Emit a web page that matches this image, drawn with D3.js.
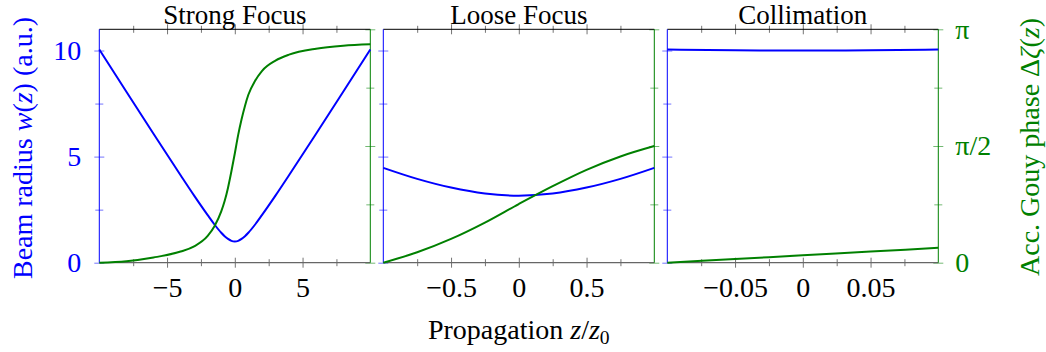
<!DOCTYPE html>
<html>
<head>
<meta charset="utf-8">
<script src="https://cdn.jsdelivr.net/npm/d3@7"></script>
<style>
  body { margin: 0; background: #fff; }
  svg { display: block; }
</style>
</head>
<body>
<svg id="chart" width="1046" height="352"></svg>
<script>
// values (z/z0, beam radius in a.u., accumulated Gouy phase in rad)
var strongZ     = [-10, -8, -6, -4, -3, -2, -1.5, -1, -0.75, -0.5, -0.25, 0, 0.25, 0.5, 0.75, 1, 1.5, 2, 3, 4, 6, 8, 10];
var strongW     = [10.05, 8.06, 6.08, 4.12, 3.16, 2.24, 1.80, 1.41, 1.25, 1.12, 1.03, 1.00, 1.03, 1.12, 1.25, 1.41, 1.80, 2.24, 3.16, 4.12, 6.08, 8.06, 10.05];
var strongPhase = [0.00, 0.02, 0.07, 0.15, 0.22, 0.36, 0.49, 0.69, 0.83, 1.01, 1.23, 1.47, 1.72, 1.93, 2.11, 2.26, 2.45, 2.58, 2.72, 2.80, 2.88, 2.92, 2.94];

var looseZ     = [-1, -0.75, -0.5, -0.25, 0, 0.25, 0.5, 0.75, 1];
var looseW     = [4.47, 3.95, 3.54, 3.26, 3.16, 3.26, 3.54, 3.95, 4.47];
var loosePhase = [0.00, 0.14, 0.32, 0.54, 0.79, 1.03, 1.25, 1.43, 1.57];

var collZ     = [-0.1, -0.05, 0, 0.05, 0.1];
var collW     = [10.05, 10.01, 10.00, 10.01, 10.05];
var collPhase = [0.00, 0.05, 0.10, 0.15, 0.20];

var titles = ["Strong Focus", "Loose Focus", "Collimation"];
var xDomains = [[-10, 10], [-1, 1], [-0.1, 0.1]];
var xMajor = [[-5, 0, 5], [-0.5, 0, 0.5], [-0.05, 0, 0.05]];
var xMinor = [[-7.5, -2.5, 2.5, 7.5], [-0.75, -0.25, 0.25, 0.75], [-0.075, -0.025, 0.025, 0.075]];
var wMajor = [0, 5, 10];
var wMinor = [2.5, 7.5];
var phaseMajor = [0, Math.PI / 2, Math.PI];
var phaseMinor = [Math.PI / 4, 3 * Math.PI / 4];
var phaseLabels = ["0", "\u03c0/2", "\u03c0"];

var BLUE = "#0000ff", GREEN = "#008000";
var FONT = "Liberation Serif";
var FS = 28;

var svg = d3.select("#chart");
var W = 271, H = 233.4, TOP = 29.3;
var lefts = [99.3, 383.3, 667.3];

var panels = [
  { z: strongZ, w: strongW, phase: strongPhase },
  { z: looseZ,  w: looseW,  phase: loosePhase },
  { z: collZ,   w: collW,   phase: collPhase }
];

function styleAxis(sel, color, opacity) {
  sel.select(".domain").remove();
  sel.attr("font-family", FONT).attr("font-size", FS).attr("color", color);
  sel.selectAll(".tick line").attr("stroke-opacity", opacity);
  return sel;
}

panels.forEach(function (p, i) {
  var g = svg.append("g").attr("transform", "translate(" + lefts[i] + "," + TOP + ")");
  var x = d3.scaleLinear().domain(xDomains[i]).range([0, W]);
  var yW = d3.scaleLinear().domain([0, 11]).range([H, 0]);
  var yG = d3.scaleLinear().domain([0, Math.PI]).range([H, 0]);
  var fmtX = d3.format("");

  // x ticks, bottom and top, crossing the frame
  g.append("g").attr("transform", "translate(0," + (H - 5) + ")")
    .call(d3.axisBottom(x).tickValues(xMajor[i]).tickSize(10).tickPadding(9).tickFormat(fmtX))
    .call(styleAxis, "#000", 0.55);
  g.append("g").attr("transform", "translate(0," + (H - 3.5) + ")")
    .call(d3.axisBottom(x).tickValues(xMinor[i]).tickSize(7).tickFormat(""))
    .call(styleAxis, "#000", 0.55);
  g.append("g").attr("transform", "translate(0,-5)")
    .call(d3.axisBottom(x).tickValues(xMajor[i]).tickSize(10).tickFormat(""))
    .call(styleAxis, "#000", 0.55);
  g.append("g").attr("transform", "translate(0,-3.5)")
    .call(d3.axisBottom(x).tickValues(xMinor[i]).tickSize(7).tickFormat(""))
    .call(styleAxis, "#000", 0.55);

  // beam radius axis (left)
  g.append("g").attr("transform", "translate(5,0)")
    .call(d3.axisLeft(yW).tickValues(wMajor).tickSize(10).tickPadding(13)
      .tickFormat(i === 0 ? d3.format("d") : ""))
    .call(styleAxis, BLUE, 0.55);
  g.append("g").attr("transform", "translate(4,0)")
    .call(d3.axisLeft(yW).tickValues(wMinor).tickSize(8).tickFormat(""))
    .call(styleAxis, BLUE, 0.55);

  // gouy phase axis (right)
  g.append("g").attr("transform", "translate(" + (W - 5) + ",0)")
    .call(d3.axisRight(yG).tickValues(phaseMajor).tickSize(10).tickPadding(12)
      .tickFormat(function (d, k) { return i === 2 ? phaseLabels[k] : ""; }))
    .call(styleAxis, GREEN, 0.55);
  g.append("g").attr("transform", "translate(" + (W - 4) + ",0)")
    .call(d3.axisRight(yG).tickValues(phaseMinor).tickSize(8).tickFormat(""))
    .call(styleAxis, GREEN, 0.55);

  // frame
  g.append("line").attr("x1", 0).attr("x2", W).attr("y1", 0).attr("y2", 0)
    .attr("stroke", "#000").attr("stroke-width", 1);
  g.append("line").attr("x1", 0).attr("x2", W).attr("y1", H).attr("y2", H)
    .attr("stroke", "#666").attr("stroke-width", 1.3);
  g.append("line").attr("x1", 0).attr("x2", 0).attr("y1", 0).attr("y2", H)
    .attr("stroke", BLUE).attr("stroke-width", 1);
  g.append("line").attr("x1", W).attr("x2", W).attr("y1", 0).attr("y2", H)
    .attr("stroke", GREEN).attr("stroke-width", 1);

  // curves
  var idx = d3.range(p.z.length);
  var lineW = d3.line().curve(d3.curveMonotoneX)
    .x(function (k) { return x(p.z[k]); })
    .y(function (k) { return yW(p.w[k]); });
  var lineG = d3.line().curve(d3.curveMonotoneX)
    .x(function (k) { return x(p.z[k]); })
    .y(function (k) { return yG(p.phase[k]); });
  g.append("path").datum(idx).attr("d", lineW)
    .attr("fill", "none").attr("stroke", BLUE).attr("stroke-width", 2);
  g.append("path").datum(idx).attr("d", lineG)
    .attr("fill", "none").attr("stroke", GREEN).attr("stroke-width", 2);

  // title (baseline kept low enough that the text box stays inside the page)
  g.append("text").attr("x", W / 2).attr("y", 24.4 - TOP)
    .attr("text-anchor", "middle").attr("font-family", FONT).attr("font-size", 27)
    .attr("fill", "#000").text(titles[i]);
});

// axis titles
var yLab = svg.append("text")
  .attr("transform", "translate(32," + (TOP + H / 2 + 2) + ") rotate(-90)")
  .attr("text-anchor", "middle").attr("font-family", FONT).attr("font-size", FS).attr("fill", BLUE);
yLab.append("tspan").text("Beam radius ");
yLab.append("tspan").attr("font-style", "italic").text("w");
yLab.append("tspan").text("(");
yLab.append("tspan").attr("font-style", "italic").text("z");
yLab.append("tspan").text(") (a.u.)");

var y2Lab = svg.append("text")
  .attr("transform", "translate(1039," + (TOP + H / 2 + 1) + ") rotate(-90)")
  .attr("text-anchor", "middle").attr("font-family", FONT).attr("font-size", FS).attr("fill", GREEN);
y2Lab.append("tspan").text("Acc. Gouy phase \u0394");
y2Lab.append("tspan").attr("font-style", "italic").text("\u03b6");
y2Lab.append("tspan").text("(");
y2Lab.append("tspan").attr("font-style", "italic").text("z");
y2Lab.append("tspan").text(")");

var xLab = svg.append("text")
  .attr("x", lefts[1] + W / 2).attr("y", 339)
  .attr("text-anchor", "middle").attr("font-family", FONT).attr("font-size", FS).attr("fill", "#000");
xLab.append("tspan").text("Propagation ");
xLab.append("tspan").attr("font-style", "italic").text("z");
xLab.append("tspan").text("/");
xLab.append("tspan").attr("font-style", "italic").text("z");
xLab.append("tspan").attr("font-size", FS * 0.7).attr("dy", 5).text("0");
</script>
</body>
</html>
